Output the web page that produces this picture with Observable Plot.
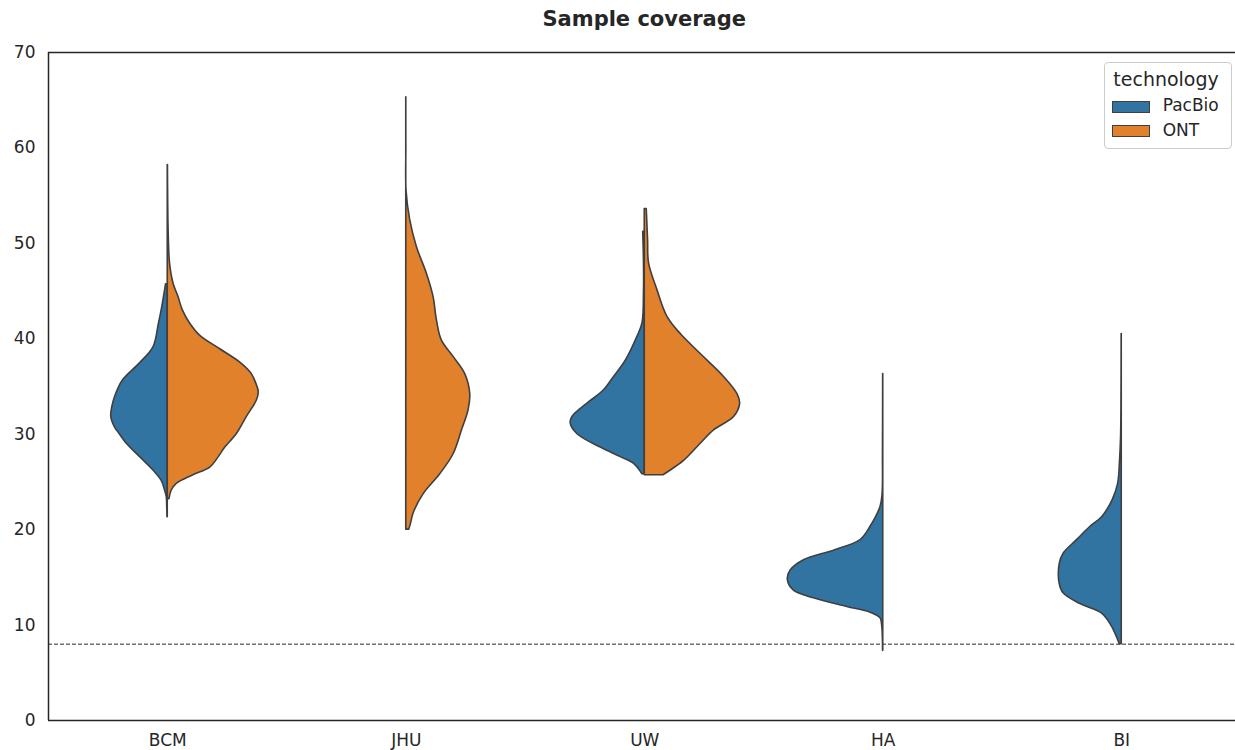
<!DOCTYPE html>
<html>
<head>
<meta charset="utf-8">
<script src="https://cdn.jsdelivr.net/npm/d3@7"></script>
<script src="https://cdn.jsdelivr.net/npm/@observablehq/plot@0.6"></script>
<style>
  html, body { margin: 0; padding: 0; background: #fff; overflow: hidden; }
  #wrap { position: relative; width: 1235px; height: 750px; overflow: hidden; font-family: "DejaVu Sans", sans-serif; color: #262626; }
  #title { position: absolute; left: 48px; top: 0; width: 1192.5px; height: 38px; line-height: 38px; text-align: center; font-weight: bold; font-size: 21px; }
  #chart { position: absolute; left: 0; top: 38px; width: 1235px; height: 712px; overflow: hidden; }
  #legend { position: absolute; left: 1104px; top: 62px; width: 127.7px; height: 87px; box-sizing: border-box; border: 1px solid #cccccc; border-radius: 4px; background: rgba(255,255,255,0.85); }
  #legend .ttl { position: absolute; left: 8.3px; top: 7.4px; font-size: 19px; line-height: 19px; white-space: nowrap; }
  #legend .sw { position: absolute; left: 6.7px; width: 38px; height: 12px; box-sizing: border-box; border: 1px solid #3f3f3f; }
  #legend .lb { position: absolute; left: 57.7px; font-size: 17px; line-height: 17px; white-space: nowrap; }
</style>
</head>
<body>
<div id="wrap">
  <div id="title">Sample coverage</div>
  <div id="chart"></div>
  <div id="legend"></div>
</div>
<script>
// Sequencing centres along the x axis and the two technologies
const groups = ["BCM", "JHU", "UW", "HA", "BI"];
const technologies = ["PacBio", "ONT"];
const colors = ["#3274a1", "#e1812c"];
const yTicks = [0, 10, 20, 30, 40, 50, 60, 70];
const minCoverage = 8;

// Kernel density profiles of sample coverage: [coverage, relative density]
const bcmPacBio = [
  [21.3, 0.003], [22.5, 0.006], [23.4, 0.010], [24.1, 0.028], [25.1, 0.063],
  [26.2, 0.150], [27.6, 0.290], [29.0, 0.430], [30.0, 0.503], [30.7, 0.552],
  [31.8, 0.592], [32.8, 0.582], [33.9, 0.552], [35.6, 0.472], [37.4, 0.294],
  [39.1, 0.150], [41.5, 0.094], [43.3, 0.058], [45.7, 0.018]
];
const bcmONT = [
  [23.2, 0.018], [24.1, 0.042], [24.8, 0.094], [25.7, 0.269], [26.5, 0.445],
  [27.6, 0.535], [28.6, 0.603], [30.0, 0.723], [31.8, 0.828], [33.5, 0.933],
  [34.4, 0.954], [35.3, 0.928], [36.3, 0.881], [37.5, 0.760], [38.9, 0.550],
  [40.3, 0.341], [41.6, 0.234], [43.0, 0.157], [44.4, 0.112], [45.8, 0.060],
  [47.9, 0.024], [51.0, 0.010], [54.0, 0.005], [58.2, 0.002]
];
const jhuONT = [
  [20.0, 0.031], [20.5, 0.047], [21.7, 0.077], [23.7, 0.181], [25.8, 0.356],
  [27.9, 0.496], [30.4, 0.584], [32.5, 0.653], [34.2, 0.671], [36.3, 0.618],
  [38.1, 0.496], [39.8, 0.374], [41.9, 0.322], [44.4, 0.286], [46.8, 0.217],
  [49.6, 0.112], [52.4, 0.042], [55.5, 0.003], [60.0, 0.001], [65.3, 0.0005]
];
const uwPacBio = [
  [25.8, 0.024], [26.9, 0.112], [27.6, 0.252], [28.6, 0.461], [30.0, 0.705],
  [31.1, 0.776], [31.8, 0.758], [33.2, 0.601], [34.6, 0.427], [36.0, 0.322],
  [37.7, 0.199], [40.2, 0.077], [41.6, 0.024], [45.0, 0.008], [48.0, 0.008],
  [51.2, 0.016]
];
const uwONT = [
  [25.7, 0.196], [26.2, 0.273], [27.2, 0.412], [29.0, 0.587], [30.4, 0.726],
  [31.8, 0.936], [33.2, 1.000], [34.2, 0.972], [36.0, 0.831], [38.4, 0.587],
  [40.5, 0.377], [42.3, 0.238], [45.1, 0.133], [47.9, 0.045], [50.3, 0.035],
  [53.6, 0.021]
];
const haPacBio = [
  [7.3, 0.002], [9.8, 0.010], [10.7, 0.028], [11.3, 0.133], [11.9, 0.377],
  [12.8, 0.726], [13.6, 0.936], [14.7, 1.000], [15.7, 0.972], [16.8, 0.831],
  [17.8, 0.517], [18.9, 0.238], [20.3, 0.133], [22.4, 0.028], [23.7, 0.007],
  [28.0, 0.003], [36.3, 0.001]
];
const biPacBio = [
  [8.0, 0.021], [9.1, 0.066], [10.1, 0.118], [11.2, 0.206], [12.2, 0.433],
  [13.3, 0.608], [14.3, 0.650], [16.4, 0.650], [17.5, 0.608], [18.9, 0.469],
  [20.3, 0.328], [21.3, 0.206], [23.1, 0.095], [24.8, 0.038], [27.2, 0.018],
  [29.7, 0.007], [33.0, 0.003], [40.5, 0.001]
];

const violins = [
  {group: "BCM", technology: "PacBio", profile: bcmPacBio},
  {group: "BCM", technology: "ONT", profile: bcmONT},
  {group: "JHU", technology: "ONT", profile: jhuONT},
  {group: "UW", technology: "PacBio", profile: uwPacBio},
  {group: "UW", technology: "ONT", profile: uwONT},
  {group: "HA", technology: "PacBio", profile: haPacBio},
  {group: "BI", technology: "PacBio", profile: biPacBio}
];

// Split violins: PacBio to the left of the category centre, ONT to the right
const halfWidth = 0.4;
const rows = violins.flatMap(v => {
  const c = groups.indexOf(v.group);
  const side = v.technology === "PacBio" ? -1 : 1;
  return v.profile.map(([coverage, density]) => ({
    key: v.group + "-" + v.technology,
    technology: v.technology,
    coverage,
    center: c,
    edge: c + side * density * halfWidth
  }));
});

const yMax = 70;
const xLo = -0.5;

// The axes run a few pixels past the right edge of the page, so the right spine is not shown
const chart = Plot.plot({
  width: 1235,
  height: 712,
  marginLeft: 48,
  marginRight: 0,
  marginTop: 14,
  marginBottom: 30,
  style: {fontFamily: "DejaVu Sans, sans-serif", fontSize: "17px", color: "#262626", background: "transparent", overflow: "hidden"},
  x: {type: "linear", domain: [xLo, groups.length - 0.5], range: [48, 1240.5]},
  y: {domain: [0, yMax]},
  color: {domain: technologies, range: colors},
  marks: [
    Plot.ruleY([minCoverage], {stroke: "#262626", strokeWidth: 1, strokeDasharray: "4,2"}),
    Plot.areaX(rows, {
      y: "coverage", x1: "center", x2: "edge", z: "key",
      fill: "technology", stroke: "#3f3f3f", strokeWidth: 1.6,
      curve: "catmull-rom"
    }),
    Plot.ruleY([0, yMax], {stroke: "#262626", strokeWidth: 1.5}),
    Plot.ruleX([xLo], {stroke: "#262626", strokeWidth: 1.5}),
    Plot.axisY({ticks: yTicks, tickSize: 0, tickPadding: 13, label: null}),
    Plot.axisX({ticks: groups.map((_, i) => i), tickFormat: i => groups[i], tickSize: 0, tickPadding: 13, label: null})
  ]
});
document.getElementById("chart").appendChild(chart);

// Legend box for the technology colours
const legend = document.getElementById("legend");
const ttl = document.createElement("div");
ttl.className = "ttl";
ttl.textContent = "technology";
legend.appendChild(ttl);
const swatchTops = [37.5, 61.5];
const labelTops = [34.3, 59.3];
technologies.forEach((t, i) => {
  const sw = document.createElement("div");
  sw.className = "sw";
  sw.style.top = swatchTops[i] + "px";
  sw.style.background = colors[i];
  legend.appendChild(sw);
  const lb = document.createElement("div");
  lb.className = "lb";
  lb.style.top = labelTops[i] + "px";
  lb.textContent = t;
  legend.appendChild(lb);
});
</script>
</body>
</html>
